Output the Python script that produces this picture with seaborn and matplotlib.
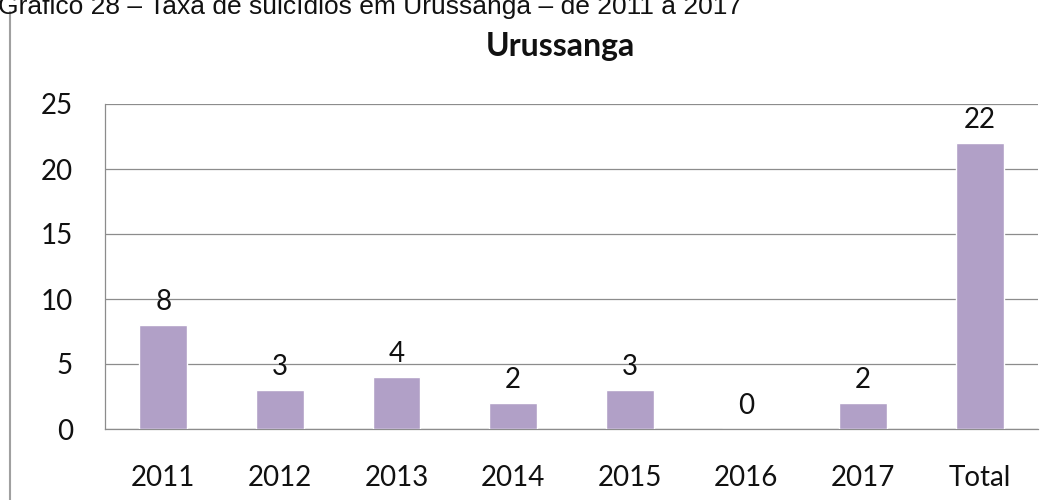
import numpy as np
import pandas as pd
import seaborn as sns
import matplotlib.pyplot as plt
from matplotlib.lines import Line2D

# valores
anos = ["2011", "2012", "2013", "2014", "2015", "2016", "2017", "Total"]
suicidios = [8, 3, 4, 2, 3, 0, 2, 22]
y_ticks = [0, 5, 10, 15, 20, 25]

df = pd.DataFrame({"ano": anos, "casos": suicidios})

sns.set_style("white")
plt.rcParams['font.family'] = ['Lato', 'DejaVu Sans']

fig = plt.figure(figsize=(10.53, 5), dpi=100)
ax = fig.add_axes([0.0997, 0.142, 0.886, 0.65])

sns.barplot(data=df, x="ano", y="casos", color="#B1A0C7", width=0.41,
            saturation=1, ax=ax, zorder=3)

# rótulos de dados
for i, v in enumerate(suicidios):
    ax.text(i, v + 0.8, str(v), ha="center", va="bottom", fontsize=20, color="#111111")

ax.set_ylim(0, 25)
ax.set_xlim(-0.5, len(anos) - 0.5)
ax.set_yticks(y_ticks)
ax.yaxis.grid(True, color="#8c8c8c", linewidth=0.9, zorder=0)
ax.set_axisbelow(True)

# marcas do eixo x nas divisões entre categorias
ax.set_xticks(np.arange(-0.5, len(anos), 1), minor=True)
ax.tick_params(axis="x", which="major", length=0, pad=26, labelsize=20, labelcolor="#111111")
ax.tick_params(axis="x", which="minor", length=8, width=0.9, color="#8c8c8c", direction="out")
ax.tick_params(axis="y", length=8, width=0.9, color="#8c8c8c", labelsize=20,
               labelcolor="#111111", pad=15, direction="out")

for s in ["top", "right"]:
    ax.spines[s].set_visible(False)
for s in ["left", "bottom"]:
    ax.spines[s].set_color("#8c8c8c")
    ax.spines[s].set_linewidth(0.9)

ax.set_xlabel("")
ax.set_ylabel("")

fig.text(0.532, 1 - 56 / 500, "Urussanga", ha="center", va="baseline", fontsize=23,
         fontweight="bold", color="#111111")

# legenda do documento (cortada no topo)
fig.text(-0.002, 1 - 14 / 500, "Gráfico 28 – Taxa de suicídios em Urussanga – de 2011 a 2017",
         ha="left", va="baseline", fontsize=19, family="Liberation Sans", color="#111111")

fig.add_artist(Line2D([10 / 1053, 10 / 1053], [0, 1 - 12 / 500], color="#a0a0a0",
                      linewidth=1.5, transform=fig.transFigure))

fig.savefig("out.png", dpi=100)
